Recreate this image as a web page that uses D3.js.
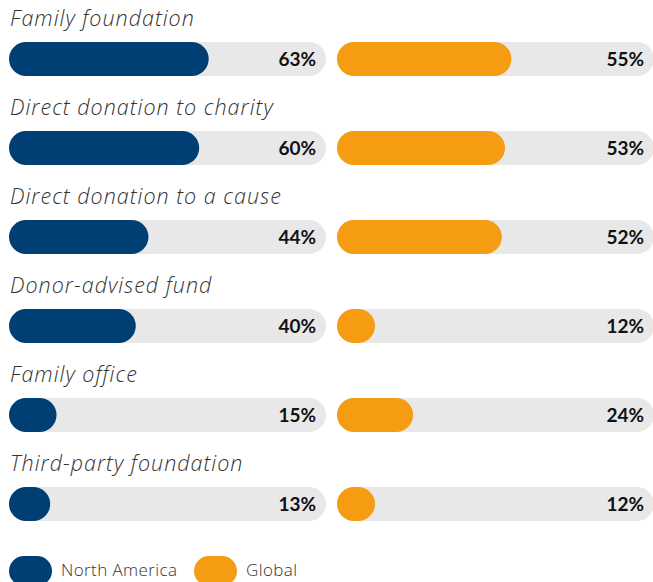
<!DOCTYPE html>
<html>
<head>
<meta charset="utf-8">
<script src="https://cdn.jsdelivr.net/npm/d3@7/dist/d3.min.js"></script>
<style>
  html, body { margin: 0; padding: 0; background: #fff; }
  svg { display: block; }
</style>
</head>
<body>
<svg id="chart" width="653" height="582"></svg>
<script>
// Philanthropic vehicles used, by region (% of respondents)
const categories = [
  "Family foundation",
  "Direct donation to charity",
  "Direct donation to a cause",
  "Donor-advised fund",
  "Family office",
  "Third-party foundation"
];
const northAmerica = [63, 60, 44, 40, 15, 13];
const global = [55, 53, 52, 12, 24, 12];
const seriesNames = ["North America", "Global"];
const seriesColors = ["#003f74", "#f59c13"];

const svg = d3.select("#chart");

const trackW = 317, barH = 34;
const panelX = [9, 337];
const rowTop = 42, rowStep = 89;

const x = d3.scaleLinear().domain([0, 100]).range([0, trackW]);
const y = d3.scaleBand()
  .domain(categories)
  .range([rowTop, rowTop + rowStep * categories.length])
  .paddingInner(0).paddingOuter(0);

const titleFont = "'Open Sans', Lato, sans-serif";
const valueFont = "Lato, 'Open Sans', sans-serif";

const rows = svg.selectAll("g.row")
  .data(categories)
  .join("g")
  .attr("class", "row")
  .attr("transform", d => `translate(0,${y(d)})`);

// Category titles
rows.append("text")
  .attr("x", 10)
  .attr("y", -16)
  .attr("font-family", titleFont)
  .attr("font-style", "italic")
  .attr("font-weight", 300)
  .attr("font-size", 21.5)
  .attr("letter-spacing", 1)
  .attr("fill", "#333")
  .text(d => d);

const series = [northAmerica, global];
series.forEach((vals, si) => {
  const g = rows.append("g").attr("transform", `translate(${panelX[si]},0)`);
  // background track
  g.append("rect")
    .attr("width", trackW)
    .attr("height", barH)
    .attr("rx", barH / 2)
    .attr("fill", "#e8e8e8");
  // value bar
  g.append("rect")
    .attr("width", (d, i) => x(vals[i]))
    .attr("height", barH)
    .attr("rx", barH / 2)
    .attr("fill", seriesColors[si]);
  // value label
  g.append("text")
    .attr("x", trackW - 10)
    .attr("y", barH / 2)
    .attr("dy", "0.36em")
    .attr("text-anchor", "end")
    .attr("font-family", valueFont)
    .attr("font-weight", 700)
    .attr("font-size", 19)
    .attr("fill", "#111")
    .text((d, i) => vals[i] + "%");
});

// Legend
const legendX = [9, 194];
const legend = svg.selectAll("g.legend")
  .data(seriesNames)
  .join("g")
  .attr("class", "legend")
  .attr("transform", (d, i) => `translate(${legendX[i]},556)`);
legend.append("rect")
  .attr("width", 43)
  .attr("height", 30)
  .attr("rx", 15)
  .attr("fill", (d, i) => seriesColors[i]);
legend.append("text")
  .attr("x", 52)
  .attr("y", 20)
  .attr("font-family", titleFont)
  .attr("font-weight", 300)
  .attr("font-size", 17)
  .attr("letter-spacing", 0.4)
  .attr("fill", "#333")
  .text(d => d);
</script>
</body>
</html>
